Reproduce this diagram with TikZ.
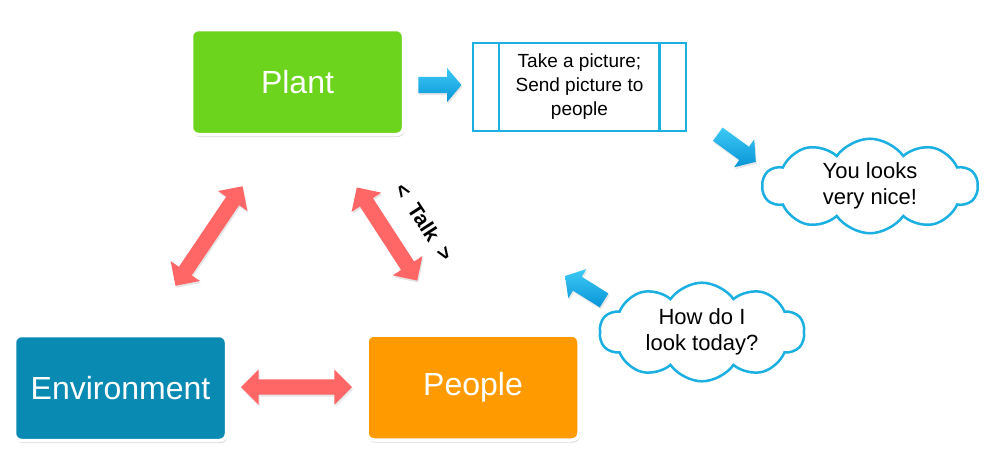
\documentclass[tikz,border=0pt]{standalone}
\usepackage{fontspec}
\setmainfont{Liberation Sans}
\usetikzlibrary{shapes.arrows,shapes.symbols,shadows,calc}

\definecolor{plantgreen}{RGB}{108,212,28}
\definecolor{envblue}{RGB}{8,138,178}
\definecolor{peopleorange}{RGB}{255,155,0}
\definecolor{linkred}{RGB}{255,102,102}
\definecolor{flowcyan}{RGB}{28,175,226}
\definecolor{flowtop}{RGB}{62,202,245}
\definecolor{flowbottom}{RGB}{8,148,214}

\tikzset{
  mainbox/.style={rectangle, rounded corners=7pt, draw=white, line width=3.5pt,
    minimum width=212pt, minimum height=105pt, text=white,
    font=\fontsize{32}{38}\selectfont,
    drop shadow={opacity=0.3, shadow xshift=1pt, shadow yshift=-2.5pt}},
  linkarrow/.style={double arrow, fill=linkred, draw=none,
    inner xsep=0pt, inner ysep=7.5pt,
    minimum width=35pt, double arrow head extend=10pt, minimum height=#1,
    drop shadow={opacity=0.2, shadow xshift=1pt, shadow yshift=-2pt}},
  flowarrow/.style={single arrow, draw=none,
    inner xsep=0pt, inner ysep=8pt,
    top color=flowtop, bottom color=flowbottom,
    minimum width=34pt, single arrow head extend=9pt, single arrow tip angle=100,
    minimum height=#1,
    drop shadow={opacity=0.2, shadow xshift=1pt, shadow yshift=-2pt}},
  flowline/.style={draw=flowcyan, line width=2.5pt},
  bubble/.style={cloud, cloud puffs=10, cloud puff arc=110, cloud ignores aspect,
    draw=flowcyan, line width=2.5pt, fill=white, align=center,
    font=\fontsize{22}{26}\selectfont},
}

\begin{document}
\begin{tikzpicture}[x=1pt,y=-1pt]
  \useasboundingbox[fill=white] (0,0) rectangle (985,466);

  % the three actors
  \node[mainbox, fill=plantgreen]   (plant) at (297.5,82)  {Plant};
  \node[mainbox, fill=envblue]      (env)   at (120.5,388) {Environment};
  \node[mainbox, fill=peopleorange] (people) at (473,387.5) {People};

  % two-way links between them
  \node[linkarrow=111pt]             (envpeople)   at (296.5,387) {};
  \node[linkarrow=120pt, rotate=56]  (envplant)    at (209,236)   {};
  \node[linkarrow=111pt, rotate=-57] (plantpeople) at (387,234)   {};
  \node[rotate=-57, font=\bfseries\fontsize{21}{24}\selectfont] (talk)
    at (424,222) {<\ \ Talk\ \ >};

  % picture step
  \node[flowline, rectangle, minimum width=213pt, minimum height=88pt,
        align=center, font=\fontsize{19}{24}\selectfont] (proc) at (579.5,87)
        {Take a picture;\\Send picture to\\people};
  \draw[flowline] ($(proc.north west)+(27,0)$) -- ($(proc.south west)+(27,0)$);
  \draw[flowline] ($(proc.north east)+(-28,0)$) -- ($(proc.south east)+(-28,0)$);

  % flow arrows and speech bubbles
  \node[flowarrow=43pt] (toproc) at (436.5,85) {};
  \node[flowarrow=47pt, rotate=-36] (toreply) at (734,146) {};
  \node[flowarrow=46pt, rotate=148] (toask) at (587.5,290) {};

  \node[bubble, minimum width=215pt, minimum height=88pt] (reply) at (870,186)
    {You looks\\very nice!};
  \node[bubble, minimum width=205pt, minimum height=80pt] (ask) at (702,332)
    {How do I\\look today?};
\end{tikzpicture}
\end{document}
